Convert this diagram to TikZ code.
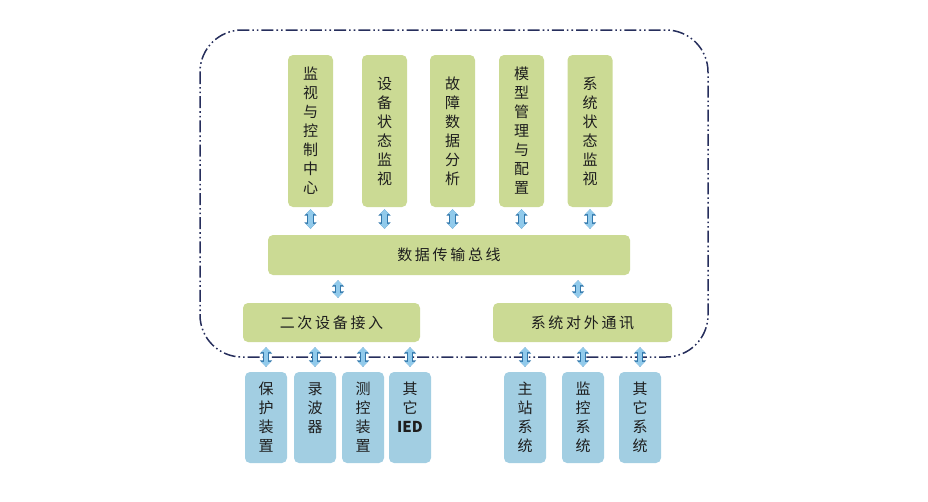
\documentclass[tikz,border=0pt]{standalone}
\usepackage{fontspec}
\setmainfont{Noto Sans CJK SC}
\newfontfamily\widecjk[LetterSpace=18]{Noto Sans CJK SC}
\usetikzlibrary{arrows.meta}

\definecolor{boxgreen}{RGB}{203,218,148}
\definecolor{boxblue}{RGB}{162,206,226}
\definecolor{arrowdark}{RGB}{50,120,172}
\definecolor{arrowlight}{RGB}{145,202,235}
\definecolor{framenavy}{RGB}{38,46,92}
\definecolor{textgray}{RGB}{30,30,30}

\begin{document}
\begin{tikzpicture}[x=1pt, y=-1pt,
        greencell/.style={rectangle, rounded corners=5pt, fill=boxgreen, text=textgray,
            align=center, font=\fontsize{15pt}{19pt}\selectfont},
        bluecell/.style={rectangle, rounded corners=5pt, fill=boxblue, text=textgray,
            align=center, font=\fontsize{15pt}{19pt}\selectfont,
            minimum width=42pt, minimum height=91pt},
        topcell/.style={greencell, minimum width=45pt, minimum height=152pt},
        barcell/.style={greencell, minimum height=40pt, font=\widecjk\fontsize{15pt}{19pt}\selectfont},
        link/.style={line width=4.4pt, draw=arrowlight,
            {Triangle[length=5pt,width=9pt]}-{Triangle[length=5pt,width=9pt]},
            preaction={draw=arrowdark, line width=6.6pt,
                {Triangle[length=6.5pt,width=12pt]}-{Triangle[length=6.5pt,width=12pt]}}}]
        \useasboundingbox (0,0) rectangle (928,501);

        % Draw the dash-dotted frame
        \draw[framenavy, line width=1.5pt, rounded corners=42pt,
            dash pattern=on 12pt off 3pt on 1.6pt off 3pt on 1.6pt off 3pt]
            (200,30) rectangle (708,357);

        % Draw the top cells
        \node[topcell] (top1) at (310.5,131) {监\\视\\与\\控\\制\\中\\心};
        \node[topcell] (top2) at (384.5,131) {设\\备\\状\\态\\监\\视};
        \node[topcell] (top3) at (452.5,131) {故\\障\\数\\据\\分\\析};
        \node[topcell] (top4) at (521.5,131) {模\\型\\管\\理\\与\\配\\置};
        \node[topcell] (top5) at (590,131) {系\\统\\状\\态\\监\\视};

        % Draw the bus
        \node[barcell, minimum width=362pt] (bus) at (449,255) {数据传输总线};

        % Draw the middle cells
        \node[barcell, minimum width=177pt, minimum height=39pt] (access) at (331.5,322.5) {二次设备接入};
        \node[barcell, minimum width=179pt, minimum height=39pt] (comm) at (582.5,322.5) {系统对外通讯};

        % Draw the bottom cells
        \node[bluecell] (dev1) at (266,417.5) {保\\护\\装\\置};
        \node[bluecell] (dev2) at (315,417.5) {录\\波\\器\\\phantom{器}};
        \node[bluecell] (dev3) at (363,417.5) {测\\控\\装\\置};
        \node[bluecell] (dev4) at (410,417.5) {其\\它\\\textbf{IED}\\\phantom{器}};
        \node[bluecell] (sys1) at (525,417.5) {主\\站\\系\\统};
        \node[bluecell] (sys2) at (583,417.5) {监\\控\\系\\统};
        \node[bluecell] (sys3) at (640,417.5) {其\\它\\系\\统};

        % Draw the arrows
        \foreach \i in {1,...,5}
            \draw[link, shorten <=2pt, shorten >=6pt] (top\i.south) -- (top\i.south |- bus.north);
        \draw[link, shorten <=5pt, shorten >=5pt] (bus.south -| 338,0) -- (access.north -| 338,0);
        \draw[link, shorten <=5pt, shorten >=5pt] (bus.south -| 578,0) -- (comm.north -| 578,0);
        \foreach \d in {dev1,dev2,dev3,dev4}
            \draw[link, shorten <=5pt, shorten >=5pt] (access.south -| \d.north) -- (\d.north);
        \foreach \s in {sys1,sys2,sys3}
            \draw[link, shorten <=5pt, shorten >=5pt] (comm.south -| \s.north) -- (\s.north);

    \end{tikzpicture}
\end{document}
